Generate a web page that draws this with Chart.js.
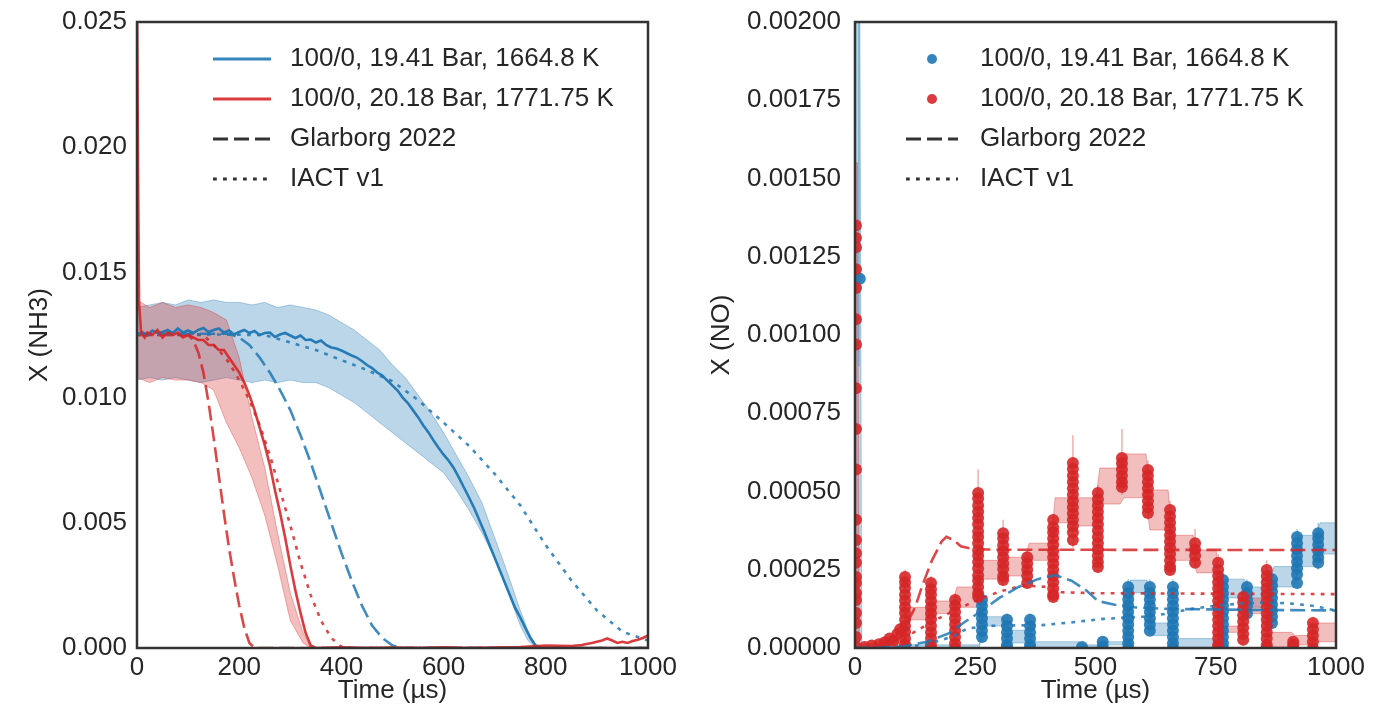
<!DOCTYPE html>
<html>
<head>
<meta charset="utf-8">
<script src="https://cdn.jsdelivr.net/npm/chart.js@4.4.0/dist/chart.umd.min.js"></script>
<style>
  html, body { margin: 0; padding: 0; background: #ffffff; }
  #c1 { position: absolute; left: 0; top: 0; }
  #c2 { position: absolute; left: 689px; top: 0; }
</style>
</head>
<body>
<canvas id="c1" width="689" height="723"></canvas>
<canvas id="c2" width="689" height="723"></canvas>
<script>
// ---------------- DATA: left panel, X(NH3), values in units of 1e-3 ----------------
const NH3_UNIT = 1e-3;
const blueExpT = [0,10,20,30,40,50,60,70,80,90,100,110,120,130,140,150,160,170,180,190,200,210,220,230,240,250,260,270,280,290,300,310,320,330,340,350,360,370,380,390,400,410,420,430,440,450,460,470,480,490,500,510,520,530,540,550,560,570,580,590,600,610,620,630,640,650,660,670,680,690,700,710,720,730,740,750,760,770,780,790];
const blueExpX = [12.50,12.62,12.48,12.68,12.58,12.62,12.70,12.58,12.76,12.60,12.68,12.58,12.70,12.78,12.62,12.70,12.76,12.60,12.68,12.52,12.62,12.70,12.58,12.66,12.50,12.58,12.60,12.42,12.52,12.58,12.48,12.38,12.48,12.30,12.32,12.20,12.28,12.10,12.00,11.96,11.88,11.78,11.68,11.60,11.46,11.30,11.18,11.00,10.88,10.68,10.48,10.28,10.00,9.78,9.50,9.22,8.90,8.62,8.30,8.00,7.72,7.48,7.18,6.80,6.40,6.00,5.58,5.10,4.62,4.10,3.60,3.10,2.60,2.10,1.60,1.22,0.80,0.40,0.10,0.00];
const blueBandT  = [0,25,50,75,100,125,150,175,200,225,250,275,300,325,350,375,400,425,450,475,500,525,550,575,600,625,650,675,700,725,750,765,780];
const blueBandHi = [13.6,13.7,13.8,13.7,13.9,13.8,13.9,13.8,13.8,13.7,13.8,13.6,13.7,13.6,13.5,13.3,13.0,12.7,12.3,11.9,11.3,10.8,10.1,9.4,8.6,7.7,6.8,5.8,4.4,3.0,1.5,0.7,0.1];
const blueBandLo = [10.7,10.8,10.7,10.8,10.7,10.6,10.7,10.8,10.7,10.6,10.7,10.6,10.7,10.6,10.6,10.4,10.1,9.8,9.4,9.0,8.6,8.2,7.8,7.4,7.0,6.3,5.5,4.6,3.6,2.3,0.9,0.3,0.0];

const redExpT = [0,2,4,8,15,20,30,40,50,60,70,80,90,100,110,120,130,140,150,160,170,180,190,200,210,220,230,240,250,260,270,280,290,300,310,320,330,340,350,400,450,500,550,600,650,700,750,800,850,870,890,910,920,930,940,950,960,970,980,990,1000];
const redExpX = [26.0,19.0,13.8,12.6,12.4,12.6,12.5,12.7,12.4,12.6,12.5,12.6,12.4,12.5,12.4,12.3,12.3,12.1,12.1,11.9,11.9,11.6,11.3,11.0,10.6,10.1,9.5,8.8,8.1,7.3,6.3,5.4,4.4,3.3,2.3,1.4,0.6,0.1,0.0,0.03,0.0,0.02,0.0,0.03,0.0,0.02,0.04,0.10,0.08,0.12,0.20,0.30,0.38,0.30,0.20,0.25,0.20,0.28,0.33,0.40,0.50];
const redBandT  = [0,25,50,75,100,125,150,175,200,225,250,275,300,325,340];
const redBandHi = [13.9,13.6,13.8,13.6,13.7,13.6,13.4,13.1,11.6,9.2,7.2,4.6,2.2,0.6,0.0];
const redBandLo = [10.8,10.6,10.8,10.7,10.7,10.6,10.3,9.0,8.0,6.8,5.3,3.3,1.1,0.2,0.0];

const redGlarT  = [0,100,110,120,130,140,150,160,170,180,190,200,210,220,230,1000];
const redGlarX  = [12.5,12.5,12.3,11.8,11.0,9.8,8.4,6.9,5.4,4.0,2.8,1.7,0.8,0.2,0.0,0.0];
const redIactT  = [0,130,140,160,180,200,220,240,260,280,300,320,340,360,380,400,420,1000];
const redIactX  = [12.5,12.5,12.3,11.9,11.4,10.7,9.9,8.9,7.7,6.3,4.9,3.4,2.1,1.1,0.4,0.05,0.0,0.0];
const blueGlarT = [0,180,200,220,240,260,280,300,320,340,360,380,400,420,440,460,480,500,520,1000];
const blueGlarX = [12.55,12.55,12.4,12.1,11.6,11.0,10.3,9.5,8.5,7.4,6.2,5.0,3.8,2.7,1.7,0.9,0.4,0.1,0.0,0.0];
const blueIactT = [0,250,300,350,400,450,500,550,600,650,700,750,800,850,900,950,1000];
const blueIactX = [12.55,12.5,12.2,11.9,11.5,11.1,10.65,9.9,9.0,8.07,6.95,5.7,4.1,2.7,1.5,0.65,0.3];

// ---------------- DATA: right panel, X(NO), values in units of 1e-4 ----------------
const NO_UNIT = 1e-4;
const redStreakT = [2,104,158,208,256,308,358,412,453,505,555,609,655,707,755,807,856,911,952];
const redStreakNO = [
  [13.5,13.1,12.8,12.1,11.5,10.5,9.7,8.3,7.0,5.7,4.1,3.45,3.03,2.72,2.27,2.08,1.76,1.53,1.12,0.80,0.35,0.03],
  [2.27,2.1,1.92,1.7,1.52,1.3,1.12,0.9,0.7,0.52,0.3,0.12,0.0],
  [2.08,1.88,1.7,1.5,1.3,1.1,0.92,0.7,0.5,0.3,0.1,0.0],
  [1.53,1.35,1.15,0.95,0.75,0.55,0.35,0.15,0.0],
  [4.95,4.78,4.55,4.35,4.15,3.95,3.72,3.55,3.35,3.12,2.95,2.75,2.55,2.32,2.15,1.95,1.75,1.63],
  [3.67,3.5,3.28,3.1,2.9,2.7,2.52,2.3,2.17],
  [2.9,2.7,2.5,2.3,2.08],
  [4.09,3.85,3.7,3.5,3.3,3.1,2.9,2.7,2.5,2.3,2.1,1.9,1.7,1.63],
  [5.91,5.72,5.5,5.3,5.1,4.9,4.7,4.5,4.3,4.1,3.9,3.7,3.45],
  [4.95,4.75,4.55,4.35,4.15,3.95,3.75,3.55,3.35,3.15,2.95,2.75,2.59],
  [6.07,5.9,5.7,5.5,5.3,5.14],
  [5.69,5.5,5.3,5.1,4.9,4.7,4.5,4.31],
  [4.41,4.2,4.0,3.8,3.6,3.4,3.2,3.0,2.8,2.6,2.49],
  [3.35,3.15,2.95,2.72],
  [2.72,2.5,2.3,2.1,1.9,1.7,1.5,1.3,1.1,0.9,0.7,0.5,0.3,0.1,0.03],
  [1.63,1.45,1.25,1.05,0.85,0.65,0.45,0.26],
  [2.49,2.3,2.1,1.9,1.7,1.5,1.3,1.1,0.9,0.7,0.5,0.3,0.1,0.0],
  [0.2,0.1,0.0],
  [0.8,0.6,0.4,0.2,0.0]
];
const redLowT  = [20,35,50,62,72,80,88,94];
const redLowNO = [0.03,0.08,0.12,0.18,0.30,0.22,0.45,0.60];

const blueStreakT = [10,264,316,364,472,515,568,613,661,765,815,867,919,963];
const blueStreakNO = [
  [11.8],
  [1.53,1.35,1.15,0.95,0.75,0.55,0.35],
  [0.9,0.7,0.5,0.3,0.1,0.0],
  [0.9,0.7,0.5,0.3,0.1,0.0],
  [0.03],
  [0.2,0.05],
  [1.95,1.75,1.55,1.35,1.15,0.95,0.75,0.55,0.35,0.15,0.0],
  [1.95,1.75,1.55,1.35,1.15,0.95,0.75,0.55],
  [1.95,1.75,1.55,1.35,1.15,0.95,0.75,0.55,0.35,0.15,0.0],
  [2.17,1.95,1.75,1.55,1.35,1.15,0.95,0.75,0.55,0.35,0.15,0.0],
  [1.95,1.75,1.55,1.35,1.1],
  [2.2,2.0,1.8,1.6,1.4,1.2,1.0,0.8],
  [3.55,3.35,3.15,2.95,2.75,2.55,2.35,2.08],
  [3.67,3.5,3.3,3.1,2.9,2.72]
];

const redErrT  = [104,158,208,256,308,358,412,453,505,555,609,655,707,755,807,856,952];
const redErrLo = [0.0,0.0,0.0,1.4,2.0,1.9,1.5,3.2,2.4,4.9,4.1,2.3,2.6,0.0,0.1,0.0,0.0];
const redErrHi = [2.5,2.3,1.75,5.7,4.1,3.1,4.3,6.8,5.2,7.0,6.0,4.7,3.8,3.0,1.9,2.8,1.0];
const blueErrT  = [8,264,316,364,568,613,661,765,815,867,919,963];
const blueErrLo = [9.0,0.2,0.0,0.0,0.0,0.4,0.0,0.0,0.9,0.6,1.9,2.5];
const blueErrHi = [21.0,1.8,1.1,1.1,2.2,2.2,2.2,2.4,2.2,2.5,3.8,4.0];

const redBandNOT  = [0,5,9,60,100,108,154,162,204,212,252,260,304,312,354,362,408,416,449,457,501,509,551,559,605,613,651,659,703,711,751,759,803,811,852,860,907,915,948,956,1000];
const redBandNOLo = [0,0,0,0,0.2,0.9,0.9,1.1,1.1,1.3,1.3,2.2,2.2,2.3,2.3,2.8,2.8,4.0,4.0,3.9,3.9,4.6,4.6,4.8,4.8,3.77,3.77,2.8,2.8,2.4,2.4,0.5,0.5,1.1,1.1,0.05,0.05,0.1,0.1,0.2,0.2];
const redBandNOHi = [15.5,15.5,0.1,0.2,0.5,1.3,1.3,1.5,1.5,1.95,1.95,2.8,2.8,2.9,2.9,3.35,3.35,4.8,4.8,4.8,4.8,5.75,5.75,6.2,6.2,5.05,5.05,3.6,3.6,3.13,3.13,0.7,0.7,1.6,1.6,0.5,0.5,0.4,0.4,0.8,0.8];
const blueBandNOT  = [0,10,14,258,268,310,320,358,368,466,476,510,519,562,572,607,617,655,665,759,769,809,819,861,871,913,923,957,967,1000];
const blueBandNOLo = [0,0,0,0,0.7,0.7,0.16,0.16,0.02,0.02,0.03,0.03,0.1,0.1,1.76,1.76,0.4,0.4,0.02,0.02,1.6,1.6,1.3,1.3,1.95,1.95,2.6,2.6,3.0,3.0];
const blueBandNOHi = [21,21,0.1,0.1,1.0,1.0,0.57,0.57,0.2,0.2,0.1,0.1,0.2,0.2,2.17,2.17,0.8,0.8,0.3,0.3,2.2,2.2,1.95,1.95,2.6,2.6,3.6,3.6,4.0,4.0];

const redGlarNOT  = [0,25,50,75,100,125,140,160,180,190,205,220,240,270,300,1000];
const redGlarNO   = [0,0.02,0.08,0.25,0.55,1.3,2.0,2.8,3.4,3.55,3.45,3.25,3.18,3.15,3.14,3.13];
const blueGlarNOT = [0,50,100,150,200,225,265,300,340,380,416,450,480,505,540,580,650,800,1000];
const blueGlarNO  = [0,0.01,0.05,0.2,0.5,0.8,1.2,1.6,1.95,2.2,2.33,2.15,1.85,1.5,1.38,1.3,1.25,1.22,1.2];
const redIactNOT  = [0,50,100,150,200,250,300,350,400,430,500,1000];
const redIactNO   = [0,0.03,0.3,0.75,1.15,1.5,1.8,2.0,1.95,1.78,1.75,1.72];
const blueIactNOT = [0,100,150,200,233,270,320,389,450,517,560,600,650,700,750,800,850,900,950,1000];
const blueIactNO  = [0,0.03,0.12,0.35,0.62,0.7,0.72,0.73,0.82,0.93,0.97,1.0,1.1,1.25,1.35,1.42,1.45,1.43,1.35,1.2];

const legendLabels = ['100/0, 19.41 Bar, 1664.8 K', '100/0, 20.18 Bar, 1771.75 K', 'Glarborg 2022', 'IACT v1'];

// ---------------- STYLE ----------------
const BLUE = '31,119,180', RED = '214,39,40';
const col = (c, a) => `rgba(${c},${a})`;
const TXT = '#262626';
const FS = 26;
const FAMILY = "'Liberation Sans', Arial, sans-serif";
const DASH = [15, 6];
const DOT = [3.8, 6.2];
Chart.defaults.font.family = FAMILY;
Chart.defaults.font.size = FS;
Chart.defaults.color = TXT;

const pts = (ts, vs, k) => ts.map((t, i) => ({x: t, y: vs[i] * k}));
const streakPts = (ts, groups, k) => ts.flatMap((t, i) => groups[i].map(v => ({x: t, y: v * k})));
const errPts = (ts, lo, hi, k) => ts.flatMap((t, i) => [{x: t, y: lo[i] * k}, {x: t, y: hi[i] * k}, {x: t, y: null}]);

function lineMarker(color, dash, len) {
  const c = document.createElement('canvas');
  c.width = len; c.height = 8;
  const g = c.getContext('2d');
  g.strokeStyle = color; g.lineWidth = 3; g.setLineDash(dash);
  g.beginPath(); g.moveTo(0, 4); g.lineTo(len, 4); g.stroke();
  return c;
}
function dotMarker(color, r) {
  const c = document.createElement('canvas');
  c.width = 2 * r + 2; c.height = 2 * r + 2;
  const g = c.getContext('2d');
  g.fillStyle = color;
  g.beginPath(); g.arc(r + 1, r + 1, r, 0, Math.PI * 2); g.fill();
  return c;
}

const framePlugin = {
  id: 'frame',
  afterDatasetsDraw(chart) {
    const {ctx, chartArea: a} = chart;
    ctx.save();
    ctx.strokeStyle = '#333333';
    ctx.lineWidth = 2.5;
    ctx.strokeRect(a.left, a.top, a.right - a.left, a.bottom - a.top);
    ctx.restore();
  }
};
const placeLegend = (x, y) => ({
  id: 'placeLegend',
  afterLayout(chart) {
    const lg = chart.legend;
    if (!lg) return;
    lg.left = x; lg.top = y; lg.right = chart.width; lg.bottom = chart.height;
    lg.width = lg.right - lg.left; lg.height = lg.bottom - lg.top;
  }
});

function xScale(step) {
  return {
    type: 'linear', min: 0, max: 1000,
    grid: {display: false, drawTicks: false}, border: {display: false},
    ticks: {stepSize: step, padding: 4, maxRotation: 0, autoSkip: false, color: TXT, font: {size: FS},
            callback: v => String(Math.round(v))},
    title: {display: true, text: 'Time (µs)', color: TXT, font: {size: FS}, padding: {top: 0, bottom: 17}},
    afterFit(s) { s.height = 75; s.paddingLeft = 0; s.paddingRight = 0; }
  };
}
function yScale(max, step, digits, title, width, titlePad, tickPad) {
  return {
    type: 'linear', min: 0, max: max,
    grid: {display: false, drawTicks: false}, border: {display: false},
    ticks: {stepSize: step, padding: tickPad, autoSkip: false, color: TXT, font: {size: FS},
            callback: v => Number(v).toFixed(digits)},
    title: {display: true, text: title, color: TXT, font: {size: FS}, padding: {top: titlePad, bottom: 0}},
    afterFit(s) { s.width = width; s.paddingTop = 0; s.paddingBottom = 0; }
  };
}
function legendOpts(items) {
  return {
    display: true, position: 'chartArea', align: 'start', fullSize: false,
    labels: {
      usePointStyle: true, pointStyleWidth: 70, padding: 14, color: TXT, textAlign: 'left',
      font: {size: FS},
      generateLabels: () => items.map((it, i) => ({
        text: it.text, pointStyle: it.marker, fillStyle: 'rgba(0,0,0,0)', strokeStyle: 'rgba(0,0,0,0)',
        lineWidth: 0, hidden: false, datasetIndex: i, fontColor: TXT
      }))
    }
  };
}
const lineDs = (data, color, dash, order) => ({
  data, borderColor: color, borderWidth: 2.6, borderDash: dash, pointRadius: 0,
  fill: false, tension: 0, order
});
const bandDs = (data, color, fillTo, order) => ({
  data, borderColor: col(color, 0.35), borderWidth: 1, pointRadius: 0,
  backgroundColor: col(color, 0.3), fill: fillTo, tension: 0, order
});

// ---------------- LEFT CHART ----------------
new Chart(document.getElementById('c1'), {
  type: 'line',
  data: {
    datasets: [
      bandDs(pts(blueBandT, blueBandLo, NH3_UNIT), BLUE, false, 10),
      bandDs(pts(blueBandT, blueBandHi, NH3_UNIT), BLUE, '-1', 10),
      bandDs(pts(redBandT, redBandLo, NH3_UNIT), RED, false, 9),
      bandDs(pts(redBandT, redBandHi, NH3_UNIT), RED, '-1', 9),
      lineDs(pts(blueIactT, blueIactX, NH3_UNIT), col(BLUE, 0.85), DOT, 3),
      lineDs(pts(blueGlarT, blueGlarX, NH3_UNIT), col(BLUE, 0.85), DASH, 3),
      lineDs(pts(redIactT, redIactX, NH3_UNIT), col(RED, 0.85), DOT, 3),
      lineDs(pts(redGlarT, redGlarX, NH3_UNIT), col(RED, 0.85), DASH, 3),
      lineDs(pts(blueExpT, blueExpX, NH3_UNIT), col(BLUE, 0.95), [], 2),
      lineDs(pts(redExpT, redExpX, NH3_UNIT), col(RED, 0.9), [], 1)
    ]
  },
  options: {
    responsive: false, animation: false, events: [],
    layout: {padding: {left: 0, top: 22, right: 41, bottom: 0}},
    scales: {
      x: xScale(200),
      y: yScale(0.025, 0.005, 3, 'X (NH3)', 137, 24, 10)
    },
    plugins: {
      legend: legendOpts([
        {text: legendLabels[0], marker: lineMarker(col(BLUE, 0.9), [], 58)},
        {text: legendLabels[1], marker: lineMarker(col(RED, 0.9), [], 58)},
        {text: legendLabels[2], marker: lineMarker('#333333', DASH, 58)},
        {text: legendLabels[3], marker: lineMarker('#333333', DOT, 58)}
      ]),
      tooltip: {enabled: false}
    }
  },
  plugins: [framePlugin, placeLegend(193, 32)]
});

// ---------------- RIGHT CHART ----------------
const scatterDs = (data, color, order) => ({
  data, showLine: false, pointStyle: 'circle', pointRadius: 6, pointBorderWidth: 0,
  pointBackgroundColor: col(color, 0.9), borderColor: col(color, 0.9), order
});
const errDs = (data, color, order) => ({
  data, borderColor: col(color, 0.35), borderWidth: 1.6, pointRadius: 0, spanGaps: false,
  fill: false, tension: 0, order
});

new Chart(document.getElementById('c2'), {
  type: 'line',
  data: {
    datasets: [
      bandDs(pts(blueBandNOT, blueBandNOLo, NO_UNIT), BLUE, false, 10),
      bandDs(pts(blueBandNOT, blueBandNOHi, NO_UNIT), BLUE, '-1', 10),
      bandDs(pts(redBandNOT, redBandNOLo, NO_UNIT), RED, false, 9),
      bandDs(pts(redBandNOT, redBandNOHi, NO_UNIT), RED, '-1', 9),
      errDs(errPts(blueErrT, blueErrLo, blueErrHi, NO_UNIT), BLUE, 8),
      errDs(errPts(redErrT, redErrLo, redErrHi, NO_UNIT), RED, 7),
      scatterDs(streakPts(blueStreakT, blueStreakNO, NO_UNIT), BLUE, 6),
      scatterDs(streakPts(redStreakT, redStreakNO, NO_UNIT).concat(pts(redLowT, redLowNO, NO_UNIT)), RED, 5),
      lineDs(pts(blueIactNOT, blueIactNO, NO_UNIT), col(BLUE, 0.85), DOT, 2),
      lineDs(pts(redIactNOT, redIactNO, NO_UNIT), col(RED, 0.85), DOT, 2),
      lineDs(pts(blueGlarNOT, blueGlarNO, NO_UNIT), col(BLUE, 0.85), DASH, 1),
      lineDs(pts(redGlarNOT, redGlarNO, NO_UNIT), col(RED, 0.85), DASH, 1)
    ]
  },
  options: {
    responsive: false, animation: false, events: [],
    layout: {padding: {left: 0, top: 22, right: 42, bottom: 0}},
    scales: {
      x: xScale(250),
      y: yScale(0.002, 0.00025, 5, 'X (NO)', 166, 17, 14)
    },
    plugins: {
      legend: legendOpts([
        {text: legendLabels[0], marker: dotMarker(col(BLUE, 0.9), 5)},
        {text: legendLabels[1], marker: dotMarker(col(RED, 0.9), 5)},
        {text: legendLabels[2], marker: lineMarker('#333333', DASH, 52)},
        {text: legendLabels[3], marker: lineMarker('#333333', DOT, 52)}
      ]),
      tooltip: {enabled: false}
    }
  },
  plugins: [framePlugin, placeLegend(194, 32)]
});
</script>
</body>
</html>
